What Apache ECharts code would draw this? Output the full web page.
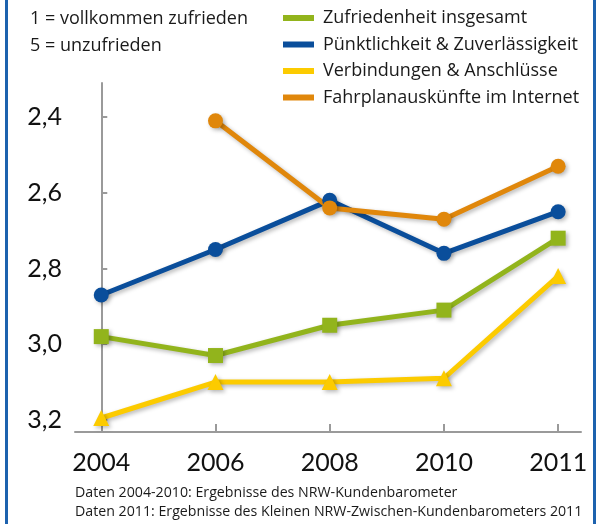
<!DOCTYPE html>
<html>
<head>
<meta charset="utf-8">
<script src="https://cdn.jsdelivr.net/npm/echarts@6/dist/echarts.min.js"></script>
<style>
  html, body { margin: 0; padding: 0; background: #fff; }
  #chart { width: 602px; height: 524px; }
</style>
</head>
<body>
<div id="chart"></div>
<script>
// years on the x axis
var years = ['2004', '2006', '2008', '2010', '2011'];
var yTicks = [2.4, 2.6, 2.8, 3.0, 3.2];

// ratings (1 = vollkommen zufrieden, 5 = unzufrieden)
var zufriedenheit = [2.98, 3.03, 2.95, 2.91, 2.72];
var puenktlichkeit = [2.87, 2.75, 2.62, 2.76, 2.65];
var verbindungen = [3.195, 3.10, 3.10, 3.09, 2.82];
var fahrplan = [null, 2.41, 2.64, 2.67, 2.53];

var axisFont = 'Lato';
var textFont = 'Open Sans';

function toPoints(values) {
    return values.map(function (v, i) { return [i, v]; });
}

var shadow = {
    shadowColor: 'rgba(0,0,0,0.28)',
    shadowBlur: 4,
    shadowOffsetX: 2,
    shadowOffsetY: 2
};

function makeSeries(name, values, color, symbol, size) {
    return {
        name: name,
        type: 'line',
        data: toPoints(values),
        symbol: symbol,
        symbolSize: size,
        showAllSymbol: true,
        lineStyle: Object.assign({ color: color, width: 5 }, shadow),
        itemStyle: Object.assign({ color: color }, shadow),
        connectNulls: false,
        animation: false
    };
}

var myChart = echarts.init(document.getElementById('chart'));

var option = {
    backgroundColor: '#fff',
    textStyle: { fontFamily: textFont },
    title: [
        {
            text: '1 = vollkommen zufrieden\n5 = unzufrieden',
            left: 25,
            top: 1,
            textStyle: { fontFamily: textFont, fontSize: 18, fontWeight: 'normal', color: '#1a1a1a', lineHeight: 26.5 }
        },
        {
            text: 'Daten 2004-2010: Ergebnisse des NRW-Kundenbarometer\nDaten 2011: Ergebnisse des Kleinen NRW-Zwischen-Kundenbarometers 2011',
            left: 70,
            top: 478,
            textStyle: { fontFamily: textFont, fontSize: 14.2, fontWeight: 'normal', color: '#1a1a1a', lineHeight: 19 }
        }
    ],
    legend: {
        orient: 'vertical',
        left: 278,
        top: 4,
        itemWidth: 31,
        itemHeight: 6,
        itemGap: 8.5,
        icon: 'rect',
        textStyle: { fontFamily: textFont, fontSize: 18, color: '#1a1a1a', padding: [0, 0, 0, 4] },
        data: ['Zufriedenheit insgesamt', 'Pünktlichkeit & Zuverlässigkeit', 'Verbindungen & Anschlüsse', 'Fahrplanauskünfte im Internet']
    },
    grid: { left: 75, right: 21, top: 83, bottom: 92 },
    xAxis: {
        type: 'value',
        min: -0.23,
        max: 4.2,
        splitLine: { show: false },
        axisLine: { show: true, lineStyle: { color: '#9a9a9a', width: 2 } },
        axisTick: { show: true, inside: true, length: 8, customValues: [0, 1, 2, 3, 4], lineStyle: { color: '#9a9a9a', width: 2 } },
        axisLabel: {
            customValues: [0, 1, 2, 3, 4],
            formatter: function (v) { return years[Math.round(v)]; },
            fontFamily: axisFont, fontSize: 25, color: '#111', margin: 18
        }
    },
    yAxis: {
        type: 'value',
        inverse: true,
        min: 2.31,
        max: 3.232,
        splitLine: { show: false },
        axisLine: { show: true, lineStyle: { color: '#9a9a9a', width: 2 } },
        axisTick: { show: true, inside: true, length: 6, customValues: yTicks, lineStyle: { color: '#9a9a9a', width: 2 } },
        axisLabel: {
            customValues: yTicks,
            formatter: function (v) { return v.toFixed(1).replace('.', ','); },
            fontFamily: axisFont, fontSize: 25, color: '#111', margin: 13
        }
    },
    graphic: [
        { type: 'rect', shape: { x: 5, y: 0, width: 3, height: 524 }, style: { fill: '#1d62ae' }, silent: true },
        { type: 'rect', shape: { x: 593, y: 0, width: 3, height: 524 }, style: { fill: '#1d62ae' }, silent: true }
    ],
    series: [
        makeSeries('Zufriedenheit insgesamt', zufriedenheit, '#92b41c', 'rect', 15),
        makeSeries('Pünktlichkeit & Zuverlässigkeit', puenktlichkeit, '#0a4e9b', 'circle', 15),
        makeSeries('Verbindungen & Anschlüsse', verbindungen, '#fccb00', 'triangle', 16),
        makeSeries('Fahrplanauskünfte im Internet', fahrplan, '#e0870b', 'circle', 15)
    ]
};

myChart.setOption(option);
</script>
</body>
</html>
